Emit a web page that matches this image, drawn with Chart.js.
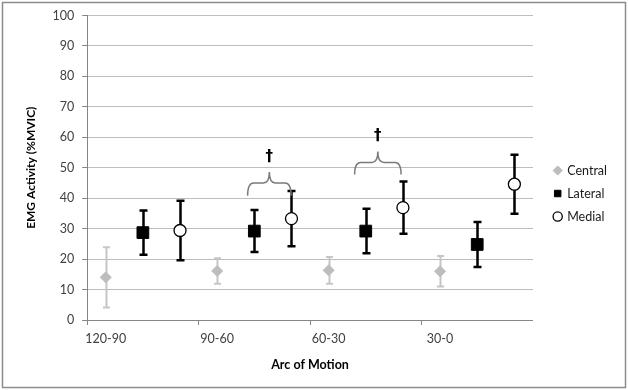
<!DOCTYPE html>
<html>
<head>
<meta charset="utf-8">
<script src="https://cdn.jsdelivr.net/npm/chart.js@4.4.1/dist/chart.umd.min.js"></script>
<style>
  html, body { margin: 0; padding: 0; background: #fff; }
  #wrap { width: 628px; height: 390px; position: relative; }
</style>
</head>
<body>
<div id="wrap"><canvas id="emgChart"></canvas></div>
<script>
const arcs = ['120-90', '90-60', '60-30', '30-0'];

const centralMean = [14.0, 16.1, 16.3, 16.0];
const centralSd = [9.9, 4.2, 4.4, 5.0];
const lateralMean = [28.7, 29.2, 29.2, 24.8];
const lateralSd = [7.3, 6.9, 7.3, 7.4];
const medialMean = [29.4, 33.3, 36.9, 44.6];
const medialSd = [9.8, 9.1, 8.6, 9.7];

// significance braces (x in category slots, y in %MVIC)
const sigBraces = [
    { from: 3.82, to: 4.99, foot: 40.8, bar: 45.0, peak: 48.6, mark: 53.4 },
    { from: 6.70, to: 7.95, foot: 47.8, bar: 51.7, peak: 55.3, mark: 60.4 }
];

const slotsPerArc = 3;
const labels = arcs.flatMap((a) => [a, '', '']);

const toSlots = (values, offset) => {
    const out = new Array(arcs.length * slotsPerArc).fill(null);
    values.forEach((v, k) => { out[k * slotsPerArc + offset] = v; });
    return out;
};

const errorBars = {
    id: 'errorBars',
    beforeDatasetsDraw(chart) {
        const { ctx } = chart;
        const x = chart.scales.x;
        const y = chart.scales.y;
        chart.data.datasets.forEach((ds) => {
            ctx.save();
            ctx.strokeStyle = ds.errorColor;
            ctx.lineWidth = ds.errorWidth;
            ds.data.forEach((v, j) => {
                const sd = ds.errors[j];
                if (v == null || sd == null) return;
                const px = Math.round(x.getPixelForValue(j)) + 0.5;
                const top = y.getPixelForValue(v + sd);
                const bot = y.getPixelForValue(v - sd);
                const cap = ds.errorCap;
                ctx.beginPath();
                ctx.moveTo(px, top);
                ctx.lineTo(px, bot);
                ctx.moveTo(px - cap, top);
                ctx.lineTo(px + cap, top);
                ctx.moveTo(px - cap, bot);
                ctx.lineTo(px + cap, bot);
                ctx.stroke();
            });
            ctx.restore();
        });
    }
};

const braces = {
    id: 'braces',
    afterDatasetsDraw(chart) {
        const { ctx } = chart;
        const x = chart.scales.x;
        const y = chart.scales.y;
        sigBraces.forEach((b) => {
            const x0 = x.getPixelForValue(b.from);
            const x1 = x.getPixelForValue(b.to);
            const xm = (x0 + x1) / 2;
            const yf = y.getPixelForValue(b.foot);
            const yb = y.getPixelForValue(b.bar);
            const yp = y.getPixelForValue(b.peak);
            const r = 6;
            ctx.save();
            ctx.strokeStyle = '#7a7a7a';
            ctx.lineWidth = 1.5;
            ctx.beginPath();
            ctx.moveTo(x0, yf);
            ctx.quadraticCurveTo(x0, yb, x0 + r, yb);
            ctx.lineTo(xm - r, yb);
            ctx.quadraticCurveTo(xm, yb, xm, yp);
            ctx.quadraticCurveTo(xm, yb, xm + r, yb);
            ctx.lineTo(x1 - r, yb);
            ctx.quadraticCurveTo(x1, yb, x1, yf);
            ctx.stroke();
            ctx.fillStyle = '#000';
            ctx.font = 'bold 15px "DejaVu Sans"';
            ctx.textAlign = 'center';
            ctx.textBaseline = 'middle';
            ctx.fillText('\u2020', xm, y.getPixelForValue(b.mark));
            ctx.restore();
        });
    }
};

// nudge the legend block right, away from the plot, like the Excel layout
const legendNudge = {
    id: 'legendNudge',
    afterLayout(chart) {
        if (!chart.legend) return;
        chart.legend.left += 11;
        chart.legend.right += 11;
    }
};

const frame = {
    id: 'frame',
    beforeDraw(chart) {
        const { ctx, width, height } = chart;
        ctx.save();
        ctx.fillStyle = '#fff';
        ctx.fillRect(0, 0, width, height);
        ctx.restore();
    },
    afterDraw(chart) {
        const { ctx, width, height } = chart;
        ctx.save();
        ctx.strokeStyle = '#8c8c8c';
        ctx.lineWidth = 1.5;
        ctx.strokeRect(2.5, 2.5, width - 5, height - 5);
        ctx.restore();
    }
};

Chart.defaults.font.family = 'Lato, "Open Sans", sans-serif';
Chart.defaults.font.size = 12.5;
Chart.defaults.color = '#404040';

new Chart(document.getElementById('emgChart'), {
    type: 'line',
    data: {
        labels,
        datasets: [
            {
                label: 'Central',
                data: toSlots(centralMean, 0),
                errors: toSlots(centralSd, 0),
                errorColor: '#c6c6c6',
                errorWidth: 2,
                errorCap: 3.5,
                showLine: false,
                pointStyle: 'rectRot',
                pointRadius: 5.5,
                pointHoverRadius: 5.5,
                backgroundColor: '#bdbdbd',
                borderColor: '#bdbdbd',
                borderWidth: 1
            },
            {
                label: 'Lateral',
                data: toSlots(lateralMean, 1),
                errors: toSlots(lateralSd, 1),
                errorColor: '#000',
                errorWidth: 2.5,
                errorCap: 4,
                showLine: false,
                pointStyle: 'rect',
                pointRadius: 8.3,
                pointHoverRadius: 8.3,
                backgroundColor: '#000',
                borderColor: '#000',
                borderWidth: 1
            },
            {
                label: 'Medial',
                data: toSlots(medialMean, 2),
                errors: toSlots(medialSd, 2),
                errorColor: '#000',
                errorWidth: 2.5,
                errorCap: 4,
                showLine: false,
                pointStyle: 'circle',
                pointRadius: 6,
                pointHoverRadius: 6,
                backgroundColor: '#fff',
                borderColor: '#000',
                borderWidth: 1.3
            }
        ]
    },
    options: {
        responsive: true,
        maintainAspectRatio: false,
        animation: false,
        layout: {
            padding: { left: 20, right: 22, top: 11, bottom: 14 }
        },
        scales: {
            x: {
                type: 'category',
                offset: true,
                border: { color: '#868686', width: 1 },
                grid: {
                    offset: true,
                    drawOnChartArea: false,
                    tickLength: 5,
                    tickColor: (ctx) => (ctx.index % slotsPerArc === 0 ? '#868686' : 'rgba(0,0,0,0)')
                },
                ticks: {
                    autoSkip: false,
                    maxRotation: 0,
                    padding: 6,
                    color: '#404040'
                },
                title: {
                    display: true,
                    text: 'Arc of Motion',
                    font: { weight: 'bold', size: 12.5 },
                    color: '#000',
                    padding: { top: 5 }
                }
            },
            y: {
                min: 0,
                max: 100,
                border: { color: '#868686', width: 1 },
                grid: {
                    color: '#bdbdbd',
                    tickColor: '#868686',
                    tickLength: 5
                },
                ticks: {
                    stepSize: 10,
                    padding: 8,
                    color: '#404040'
                },
                title: {
                    display: true,
                    text: 'EMG Activity (%MVIC)',
                    font: { weight: 'bold', size: 12 },
                    color: '#000',
                    padding: { bottom: 6 }
                }
            }
        },
        plugins: {
            legend: {
                display: true,
                position: 'right',
                labels: {
                    usePointStyle: true,
                    boxWidth: 6.5,
                    boxHeight: 6.5,
                    padding: 10.5,
                    color: '#1a1a1a',
                    font: { size: 12.5 }
                }
            },
            tooltip: { enabled: false }
        }
    },
    plugins: [errorBars, braces, legendNudge, frame]
});
</script>
</body>
</html>
